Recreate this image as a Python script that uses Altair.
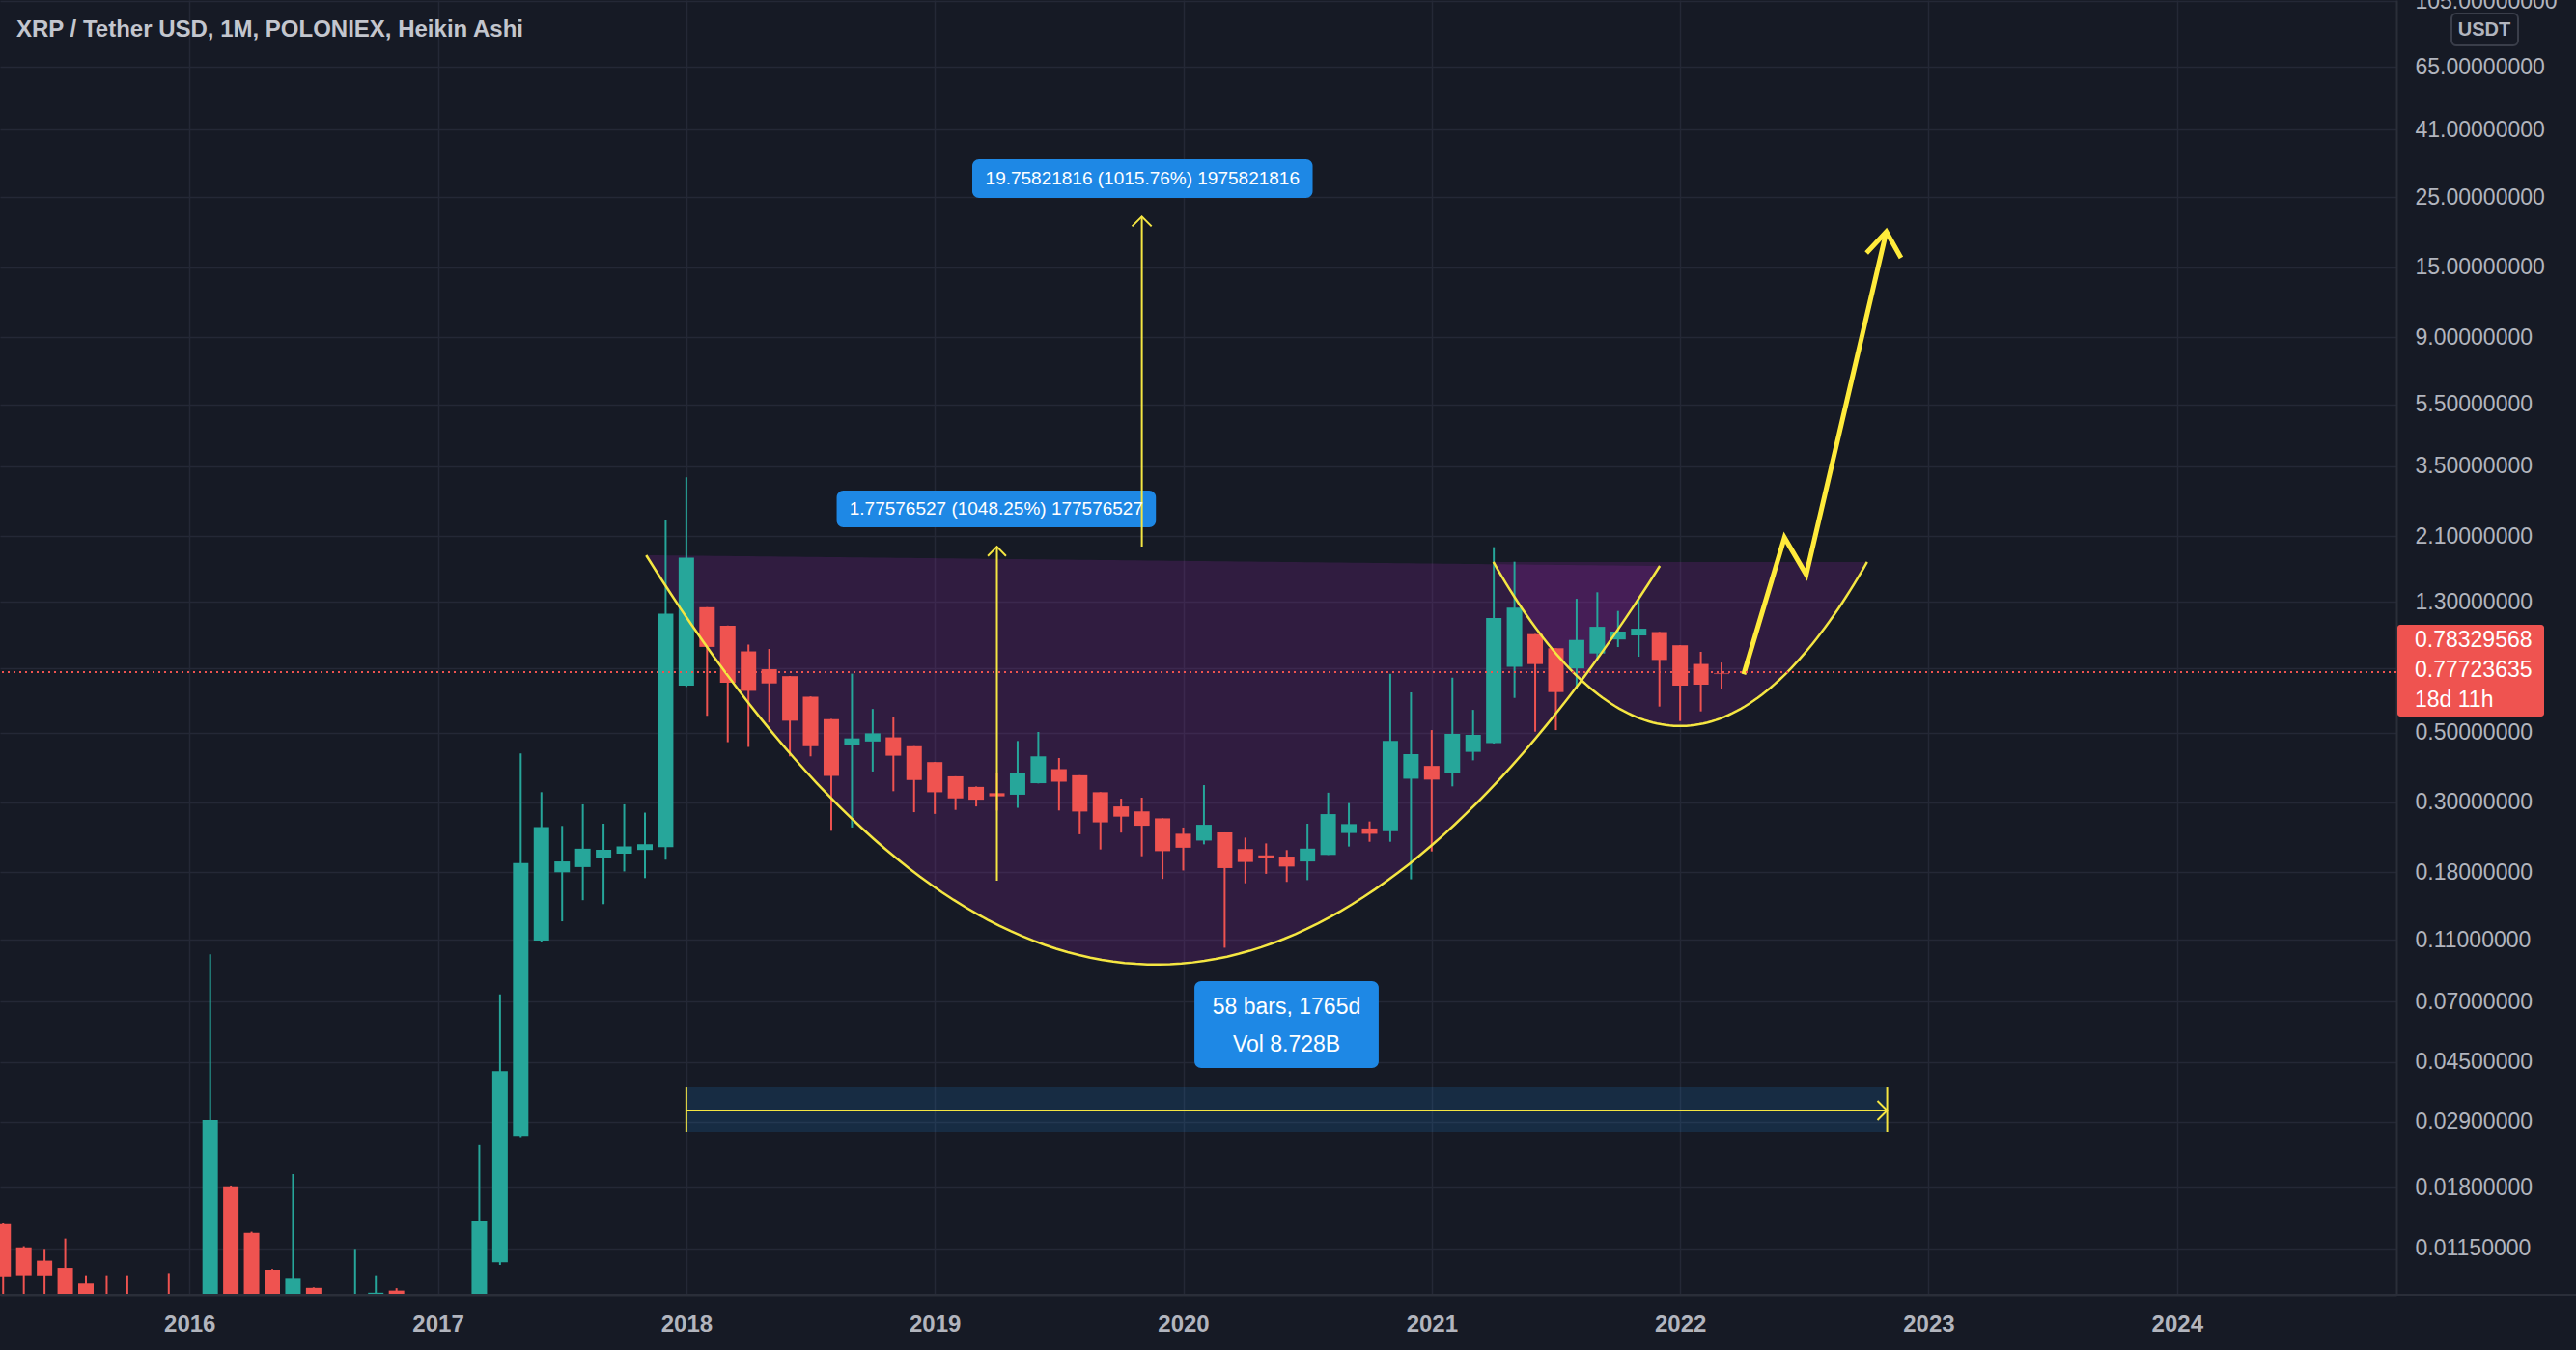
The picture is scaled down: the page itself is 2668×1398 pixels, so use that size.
import altair as alt
import numpy as np
import pandas as pd

# ---------------------------------------------------------------- data
TITLE = "XRP / Tether USD, 1M, POLONIEX, Heikin Ashi"
FIRST_MONTH_INDEX = -9          # Apr 2015 (month index 0 = Jan 2016)

ha_open = [
    0.01375, 0.01160, 0.01052, 0.00998, 0.00890, 0.00822, 0.00800, 0.00770, 0.00740,
    0.00710, 0.00680, 0.01810, 0.01290, 0.00985, 0.00800, 0.00862, 0.00780, 0.00750, 0.00780, 0.00845, 0.00800,
    0.00740, 0.00700, 0.00710, 0.01040, 0.02620, 0.10930, 0.18000, 0.18700, 0.20040, 0.20630, 0.21190, 0.21650,
    0.70400, 1.24950, 1.09200, 0.90500, 0.79400, 0.75500, 0.65000, 0.55130, 0.45770, 0.46830, 0.48270, 0.45230,
    0.40280, 0.36300, 0.33600, 0.32100, 0.31740, 0.34520, 0.38260, 0.36580, 0.32320, 0.29130, 0.28090, 0.26700,
    0.23860, 0.22700, 0.24090, 0.21330, 0.20370, 0.20190, 0.19480, 0.20440, 0.23990, 0.24800, 0.24320, 0.35660,
    0.39170, 0.37300, 0.43400, 0.46270, 0.80830, 1.02670, 0.92580, 0.79890, 0.89140, 0.98720, 1.01660, 1.04230,
    0.94620, 0.82540, 0.77000,
]
ha_high = [
    0.01390, 0.01170, 0.01147, 0.01237, 0.00946, 0.00946, 0.00946, 0.00800, 0.00961,
    0.00800, 0.09880, 0.01820, 0.01300, 0.00990, 0.01980, 0.00865, 0.00800, 0.01147, 0.00946, 0.00860, 0.00810,
    0.00800, 0.00800, 0.02450, 0.07370, 0.42940, 0.32330, 0.25260, 0.29580, 0.25670, 0.29580, 0.27840, 2.37400,
    3.23100, 1.25000, 1.09300, 0.95100, 0.92100, 0.75600, 0.65100, 0.55200, 0.76900, 0.59400, 0.55800, 0.45240,
    0.40300, 0.36310, 0.33700, 0.37300, 0.47000, 0.50200, 0.41500, 0.36590, 0.32330, 0.30830, 0.31060, 0.26710,
    0.24970, 0.34040, 0.24100, 0.23190, 0.22230, 0.21170, 0.25670, 0.32210, 0.29850, 0.26100, 0.76800, 0.67040,
    0.50890, 0.74680, 0.59000, 1.93800, 1.74300, 1.02700, 0.92600, 1.32900, 1.39400, 1.21600, 1.32900, 1.04300,
    0.94700, 0.90180, 0.83400,
]
ha_low = [
    0.00750, 0.00700, 0.00720, 0.00700, 0.00680, 0.00680, 0.00680, 0.00660, 0.00640,
    0.00600, 0.00600, 0.00700, 0.00640, 0.00600, 0.00620, 0.00620, 0.00640, 0.00660, 0.00700, 0.00700, 0.00600,
    0.00600, 0.00620, 0.00650, 0.01020, 0.02600, 0.10830, 0.12580, 0.14680, 0.14260, 0.18110, 0.17250, 0.19720,
    0.69800, 0.56500, 0.46600, 0.45000, 0.53800, 0.42000, 0.42000, 0.24380, 0.24970, 0.37600, 0.32560, 0.27930,
    0.27580, 0.28400, 0.29130, 0.28280, 0.28840, 0.34460, 0.28280, 0.23770, 0.21270, 0.24060, 0.20240, 0.17150,
    0.18240, 0.22080, 0.10370, 0.16610, 0.17800, 0.16780, 0.17000, 0.20430, 0.21730, 0.22500, 0.22500, 0.17100,
    0.20970, 0.33730, 0.40800, 0.46120, 0.64400, 0.50300, 0.50890, 0.68800, 0.85000, 0.93400, 0.87050, 0.60450,
    0.54370, 0.58360, 0.68800,
]
ha_close = [
    0.00939, 0.00946, 0.00945, 0.00790, 0.00720, 0.00815, 0.00740, 0.00710, 0.00680,
    0.00640, 0.02940, 0.00760, 0.00700, 0.00660, 0.00928, 0.00700, 0.00720, 0.00800, 0.00832, 0.00760, 0.00680,
    0.00660, 0.00720, 0.01410, 0.04210, 0.19250, 0.25060, 0.19490, 0.21390, 0.21220, 0.21750, 0.22100, 1.19200,
    1.79500, 0.93500, 0.71900, 0.67800, 0.71600, 0.54500, 0.45250, 0.36400, 0.47900, 0.49700, 0.42200, 0.35330,
    0.32310, 0.30900, 0.30600, 0.31370, 0.37300, 0.42000, 0.34900, 0.28060, 0.25930, 0.27040, 0.25300, 0.21010,
    0.21540, 0.25480, 0.18560, 0.19410, 0.20000, 0.18770, 0.21400, 0.27540, 0.25610, 0.23850, 0.47000, 0.42680,
    0.35430, 0.49500, 0.49150, 1.15400, 1.24500, 0.82480, 0.67200, 0.98380, 1.08300, 1.04600, 1.06800, 0.85000,
    0.70460, 0.70940, 0.76650,
]

price_ticks = [105, 65, 41, 25, 15, 9, 5.5, 3.5, 2.1, 1.3, 0.8, 0.5, 0.3,
               0.18, 0.11, 0.07, 0.045, 0.029, 0.018, 0.0115]
year_ticks = [0, 12, 24, 36, 48, 60, 72, 84, 96]      # Jan 2016 ... Jan 2024

last_price = 0.77723635
tag_texts = ["0.78329568", "0.77723635", "18d 11h"]

# drawings: (month index, price)
cup_ctrl = [(22.06, 1.827), (46.54, 0.00479), (71.02, 1.690)]
handle_ctrl = [(62.98, 1.739), (72.0, 0.1581), (81.03, 1.739)]
zigzag_k = [75.07, 77.04, 78.09, 81.96]
zigzag_p = [0.765, 2.078, 1.586, 19.44]
zz_head_k = [81.0, 81.96, 82.67]
zz_head_p = [16.64, 19.44, 16.07]

m1_k, m1_lo, m1_hi = 39.0, 0.16941, 1.94518
m2_k, m2_lo, m2_hi = 46.0, 1.94518, 21.70340
range_k0, range_k1 = 24, 82
range_lo, range_mid, range_hi = 0.02701, 0.03154, 0.03736

box1 = dict(k0=31.26, k1=46.68, p0=2.242, p1=2.932, tk=38.97, tp=2.564,
            text="1.77576527 (1048.25%) 177576527")
box2 = dict(k0=37.81, k1=54.25, p0=24.89, p1=33.0, tk=46.03, tp=28.66,
            text="19.75821816 (1015.76%) 1975821816")
box3 = dict(k0=48.54, k1=57.44, p0=0.04304, p1=0.08123)
box3_texts = ["58 bars, 1765d", "Vol 8.728B"]
box3_text_p = [0.06714, 0.05099]

# ---------------------------------------------------------------- style
BG = "#161a25"
GRID = "#242836"
BORDER = "#2a2e39"
TEAL = "#26a69a"
RED = "#ef5350"
YEL = "#f5e642"
BLUE = "#1e88e5"
LBL = "#b2b5be"
FONT = "Liberation Sans"

W, H = 2482, 1341
xs = alt.Scale(domain=[-8.918, (W - 192) / 21.53], nice=False, zero=False)
ys = alt.Scale(type="log", domain=[0.008193, 105.8], nice=False)

y_axis = alt.Axis(
    orient="right", values=price_ticks,
    labelExpr="datum.value == 0.8 ? '' : format(datum.value, '.8f')",
    grid=True, gridColor=GRID, gridWidth=1.5, domain=True, domainColor=BORDER, domainWidth=2,
    ticks=False, tickSize=0, labelPadding=19, labelAlign="left", labelBaseline="middle",
    labelColor=LBL, labelFont=FONT, labelFontSize=23, labelOverlap=False, labelFlush=False,
    labelBound=False, title="",
)
x_axis = alt.Axis(
    orient="bottom", values=year_ticks,
    labelExpr="format(2016 + datum.value / 12, 'd')",
    grid=True, gridColor=GRID, gridWidth=1.5, domain=True, domainColor=BORDER, domainWidth=2,
    ticks=False, tickSize=0, labelPadding=30, labelBaseline="middle",
    labelColor=LBL, labelFont=FONT, labelFontSize=24, labelFontWeight="bold",
    labelOverlap=False, labelFlush=False, title="",
)


def X(f):
    return alt.X(f, type="quantitative", scale=xs, axis=x_axis)


def Y(f):
    return alt.Y(f, type="quantitative", scale=ys, axis=y_axis)


# ---------------------------------------------------------------- frames
n = len(ha_open)
candles = pd.DataFrame({
    "k": list(range(FIRST_MONTH_INDEX, FIRST_MONTH_INDEX + n)),
    "open": ha_open, "high": ha_high, "low": ha_low, "close": ha_close,
})
candles["dir"] = np.where(candles["close"] >= candles["open"], "up", "down")
col = alt.Color("dir:N", scale=alt.Scale(domain=["up", "down"], range=[TEAL, RED]), legend=None)


def bezier(ctrl, n=90):
    (k0, p0), (kc, pc), (k2, p2) = ctrl
    t = np.linspace(0, 1, n)
    L0, Lc, L2 = np.log10([p0, pc, p2])
    k = (1 - t) ** 2 * k0 + 2 * t * (1 - t) * kc + t ** 2 * k2
    L = (1 - t) ** 2 * L0 + 2 * t * (1 - t) * Lc + t ** 2 * L2
    chord = L0 + (k - k0) / (k2 - k0) * (L2 - L0)
    return pd.DataFrame({"k": k, "p": 10 ** L, "top": 10 ** chord, "i": np.arange(n)})


cup = bezier(cup_ctrl)
handle = bezier(handle_ctrl)

rows = []


def poly(name, ks, ps):
    for i, (k, p) in enumerate(zip(ks, ps)):
        rows.append({"id": name, "i": i, "k": k, "p": p})


poly("m1", [m1_k, m1_k], [m1_lo, m1_hi])
poly("m1h", [m1_k - 0.44, m1_k, m1_k + 0.44], [m1_hi * 0.934, m1_hi, m1_hi * 0.934])
poly("m2", [m2_k, m2_k], [m2_lo, m2_hi])
poly("m2h", [m2_k - 0.47, m2_k, m2_k + 0.47], [m2_hi * 0.932, m2_hi, m2_hi * 0.932])
poly("r", [range_k0, range_k1], [range_mid, range_mid])
poly("rh", [range_k1 - 0.47, range_k1, range_k1 - 0.47], [0.03385, range_mid, 0.02939])
poly("rl", [range_k0, range_k0], [range_lo, range_hi])
poly("rr", [range_k1, range_k1], [range_lo, range_hi])
thin = pd.DataFrame(rows)

rows = []
poly("zz", zigzag_k, zigzag_p)
poly("zh", zz_head_k, zz_head_p)
thick = pd.DataFrame(rows)

boxes = pd.DataFrame([
    {"k0": b["k0"], "k1": b["k1"], "p0": b["p0"], "p1": b["p1"]} for b in (box1, box2, box3)
])
box_text = pd.DataFrame([
    {"k": box1["tk"], "p": box1["tp"], "t": box1["text"]},
    {"k": box2["tk"], "p": box2["tp"], "t": box2["text"]},
])
box3_text = pd.DataFrame({"k": [(box3["k0"] + box3["k1"]) / 2] * 2, "p": box3_text_p, "t": box3_texts})
range_rect = pd.DataFrame({"k0": [range_k0], "k1": [range_k1], "p0": [range_lo], "p1": [range_hi]})

# ---------------------------------------------------------------- layers
cup_fill = alt.Chart(cup).mark_area(color="#9c27b0", opacity=0.2, clip=True).encode(
    x=X("k"), y=Y("p"), y2="top:Q")
handle_fill = alt.Chart(handle).mark_area(color="#9c27b0", opacity=0.2, clip=True).encode(
    x=X("k"), y=Y("p"), y2="top:Q")

wicks = alt.Chart(candles).mark_rule(strokeWidth=2, clip=True).encode(
    x=X("k"), y=Y("low"), y2="high:Q", color=col)
bodies = alt.Chart(candles).mark_bar(size=16, clip=True).encode(
    x=X("k"), y=Y("open"), y2="close:Q", color=col)

rng = alt.Chart(range_rect).mark_rect(color="#2196f3", opacity=0.15, clip=True).encode(
    x=X("k0"), x2="k1:Q", y=Y("p0"), y2="p1:Q")

box_marks = alt.Chart(boxes).mark_rect(color=BLUE, cornerRadius=7, clip=True).encode(
    x=X("k0"), x2="k1:Q", y=Y("p0"), y2="p1:Q")
box_txt = alt.Chart(box_text).mark_text(color="#ffffff", font=FONT, fontSize=19,
                                        align="center", baseline="middle").encode(
    x=X("k"), y=Y("p"), text="t:N")
box3_txt = alt.Chart(box3_text).mark_text(color="#ffffff", font=FONT, fontSize=23,
                                          align="center", baseline="middle").encode(
    x=X("k"), y=Y("p"), text="t:N")

cup_line = alt.Chart(cup).mark_line(color=YEL, strokeWidth=2.5, clip=True).encode(
    x=X("k"), y=Y("p"), order="i:Q")
handle_line = alt.Chart(handle).mark_line(color=YEL, strokeWidth=2.5, clip=True).encode(
    x=X("k"), y=Y("p"), order="i:Q")

thin_lines = alt.Chart(thin).mark_line(color=YEL, strokeWidth=2, clip=True).encode(
    x=X("k"), y=Y("p"), detail="id:N", order="i:Q")
thick_lines = alt.Chart(thick).mark_line(color="#ffeb3b", strokeWidth=5, clip=True,
                                         strokeJoin="miter").encode(
    x=X("k"), y=Y("p"), detail="id:N", order="i:Q")

price_line = alt.Chart(pd.DataFrame({"p": [last_price]})).mark_rule(
    color=RED, strokeWidth=2, strokeDash=[2, 4]).encode(y=Y("p"))

one = pd.DataFrame({"a": [0]})
tag = alt.Chart(one).mark_rect(color=RED, cornerRadius=3).encode(
    x=alt.value(2483), x2=alt.value(2635), y=alt.value(647), y2=alt.value(742))


def tag_line(text, ypix):
    return alt.Chart(pd.DataFrame({"t": [text]})).mark_text(
        color="#ffffff", font=FONT, fontSize=23, align="left", baseline="middle").encode(
        x=alt.value(2501), y=alt.value(ypix), text="t:N")


tag_lines = [tag_line(t, yp) for t, yp in zip(tag_texts, [663, 694, 725])]

usdt_box = alt.Chart(one).mark_rect(fill=BG, stroke="#3a3e4a", strokeWidth=2, cornerRadius=5).encode(
    x=alt.value(2539), x2=alt.value(2608), y=alt.value(14), y2=alt.value(47))
usdt_txt = alt.Chart(pd.DataFrame({"t": ["USDT"]})).mark_text(
    color=LBL, font=FONT, fontSize=20, fontWeight="bold", align="center", baseline="middle").encode(
    x=alt.value(2573), y=alt.value(31), text="t:N")

bottom_line = alt.Chart(one).mark_rule(color=BORDER, strokeWidth=2).encode(
    x=alt.value(0), x2=alt.value(2668), y=alt.value(H))

title = alt.Chart(pd.DataFrame({"t": [TITLE]})).mark_text(
    color="#c3c6ce", font=FONT, fontSize=24, fontWeight="bold", align="left", baseline="middle").encode(
    x=alt.value(17), y=alt.value(31), text="t:N")

chart = alt.layer(
    cup_fill, handle_fill, wicks, bodies, rng, box_marks,
    cup_line, handle_line, thin_lines, box_txt, box3_txt, thick_lines, price_line,
    bottom_line, tag, *tag_lines, usdt_box, usdt_txt, title,
).properties(
    width=W, height=H,
    autosize=alt.AutoSizeParams(type="none"),
    padding={"left": 0, "top": 0, "right": 2668 - W, "bottom": 1398 - H},
    background=BG,
).configure_view(stroke="transparent")

chart.save("out.html", embed_options={"renderer": "svg", "actions": False})
